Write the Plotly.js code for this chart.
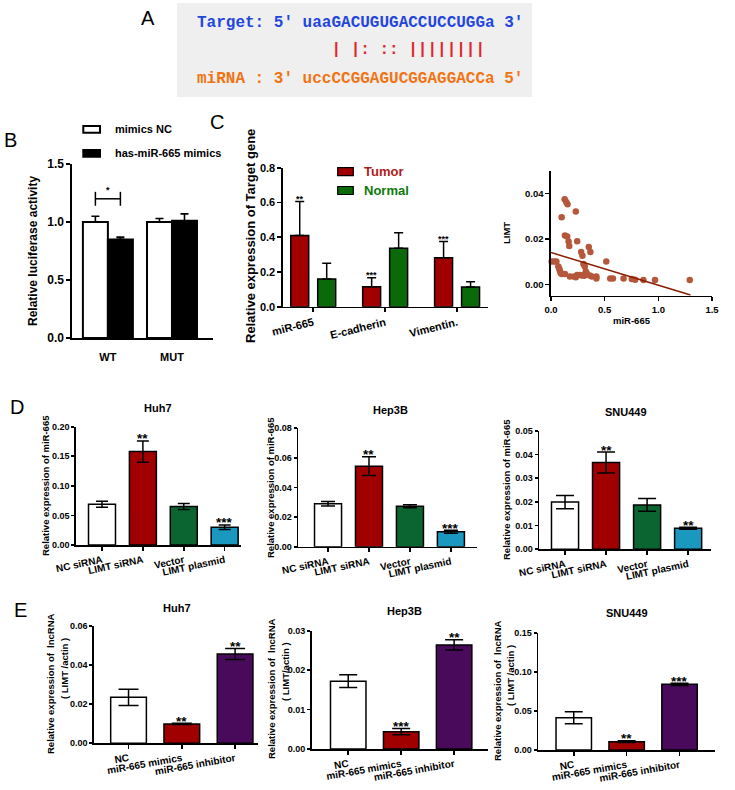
<!DOCTYPE html>
<html><head><meta charset="utf-8">
<script src="https://cdn.plot.ly/plotly-3.0.1.min.js"></script>
<style>html,body{margin:0;padding:0;background:#fff}#chart{width:735px;height:790px}</style>
</head><body><div id="chart"></div>
<script>
// ---------------- DATA ----------------
// Panel A
const targetSeq = "Target: 5' uaaGACUGUGACCUCCUGGa 3'";
const pairLine  = "              | |: :: ||||||||";
const mirnaSeq  = "miRNA : 3' uccCCGGAGUCGGAGGACCa 5'";

// Panel B
const bCats = ['WT', 'MUT'];
const bNC = [1.00, 1.00];
const bNCerr = [0.05, 0.03];
const bMim = [0.85, 1.01];
const bMimErr = [0.02, 0.06];
const bLegend = ['mimics NC', 'has-miR-665 mimics'];

// Panel C (bars)
const cCats = ['miR-665', 'E-cadherin', 'Vimentin.'];
const cTumor = [0.41, 0.115, 0.282];
const cTumorErr = [0.195, 0.052, 0.093];
const cNormal = [0.16, 0.336, 0.114];
const cNormalErr = [0.09, 0.09, 0.03];
const cTumorSig = ['**', '***', '***'];
const cLegend = ['Tumor', 'Normal'];

// Panel C (scatter)
const scX = [0.006,0.031,0.05,0.068,0.077,0.083,0.09,0.099,0.13,0.099,0.127,0.142,0.154,0.13,0.151,0.164,0.17,0.176,0.231,0.244,0.213,0.231,0.244,0.269,0.281,0.293,0.29,0.31,0.302,0.315,0.324,0.336,0.352,0.367,0.361,0.38,0.423,0.423,0.515,0.552,0.577,0.676,0.753,0.784,0.861,0.969,1.293];
const scY = [0.0101,0.0101,0.0100,0.0079,0.0069,0.006,0.005,0.0045,0.0045,0.0295,0.0374,0.0362,0.0352,0.0215,0.021,0.0188,0.0169,0.0035,0.032,0.019,0.0035,0.0031,0.0041,0.0041,0.0142,0.0126,0.0039,0.0038,0.009,0.0079,0.0057,0.0047,0.0164,0.0142,0.0039,0.0035,0.0035,0.0026,0.0101,0.0026,0.0026,0.0026,0.0023,0.002,0.0019,0.0019,0.0019];
const fitX = [0, 1.3];
const fitY = [0.0140, -0.0047];

// Panel D
const dCats = ['NC siRNA', 'LIMT siRNA', 'Vector', 'LIMT plasmid'];
const dHuh7 = [0.069, 0.158, 0.065, 0.030];
const dHuh7Err = [0.005, 0.018, 0.005, 0.004];
const dHuh7Sig = ['', '**', '', '***'];
const dHep3B = [0.029, 0.0544, 0.0274, 0.0101];
const dHep3BErr = [0.0015, 0.0063, 0.001, 0.001];
const dHep3BSig = ['', '**', '', '***'];
const dSNU = [0.0199, 0.0366, 0.0187, 0.0089];
const dSNUErr = [0.0028, 0.0044, 0.0027, 0.0004];
const dSNUSig = ['', '**', '', '**'];

// Panel E
const eCats = ['NC', 'miR-665 mimics', 'miR-665 inhibitor'];
const eHuh7 = [0.0235, 0.0099, 0.0457];
const eHuh7Err = [0.0042, 0.0003, 0.0028];
const eHuh7Sig = ['', '**', '**'];
const eHep3B = [0.0172, 0.0044, 0.0264];
const eHep3BErr = [0.0016, 0.0008, 0.0013];
const eHep3BSig = ['', '***', '**'];
const eSNU = [0.0413, 0.0107, 0.084];
const eSNUErr = [0.0077, 0.001, 0.0015];
const eSNUSig = ['', '**', '***'];

// ---------------- STYLE / LAYOUT ----------------
const FONT = "'Liberation Sans', Arial, Helvetica, sans-serif";
const MONO = "'Liberation Mono', 'Courier New', monospace";
const W = 735, H = 790, LW = 1.6, BLACK = '#000';
const RED = '#a00000', GREEN_C = '#0a6a0a', GREEN = '#0b6530', CYAN = '#1b98c0', PURPLE = '#4a0a5c';

const traces = [];
const layout = {
  width: W, height: H, margin: {l: 0, r: 0, t: 0, b: 0},
  paper_bgcolor: '#fff', plot_bgcolor: 'rgba(0,0,0,0)',
  barmode: 'overlay', showlegend: false,
  font: {family: FONT, color: BLACK},
  annotations: [], shapes: []
};

function aid(n) { return n === 1 ? '' : String(n); }
function bf(size, color) { return {family: FONT, size: size, color: color || BLACK, weight: 'bold'}; }

function addY(n, top, bottom, range, dtick, fmt, size, tlen) {
  layout['yaxis' + aid(n)] = {
    domain: [1 - bottom / H, 1 - top / H], range: range, dtick: dtick, tick0: 0, tickformat: fmt,
    anchor: 'x' + aid(n), showline: true, linecolor: BLACK, linewidth: LW,
    ticks: 'outside', ticklen: tlen || 4, tickwidth: LW, tickcolor: BLACK,
    showgrid: false, zeroline: false, fixedrange: true, tickfont: bf(size)
  };
}
function addX(n, left, right, range, o) {
  layout['xaxis' + aid(n)] = Object.assign({
    domain: [left / W, right / W], range: range, anchor: 'y' + aid(n), type: 'category',
    showline: true, linecolor: BLACK, linewidth: LW,
    ticks: 'outside', ticklen: 4, tickwidth: LW, tickcolor: BLACK,
    showgrid: false, zeroline: false, fixedrange: true, tickfont: bf(10)
  }, o || {});
}
function pann(text, xPx, yPx, font, extra) {
  layout.annotations.push(Object.assign({
    xref: 'paper', yref: 'paper', x: xPx / W, y: 1 - yPx / H, text: text, showarrow: false,
    xanchor: 'center', yanchor: 'middle', font: font
  }, extra || {}));
}
function prect(x0, y0, x1, y1, fill, lw) {
  layout.shapes.push({type: 'rect', xref: 'paper', yref: 'paper', x0: x0 / W, x1: x1 / W,
    y0: 1 - y1 / H, y1: 1 - y0 / H, fillcolor: fill, line: {color: BLACK, width: lw}});
}
function stars(n, vals, errs, sig, dx, size, shift) {
  sig.forEach(function (s, i) {
    if (!s) return;
    layout.annotations.push({xref: 'x' + aid(n), yref: 'y' + aid(n), x: i + dx, y: vals[i] + errs[i],
      text: s, showarrow: false, xanchor: 'center', yanchor: 'middle', yshift: shift, font: bf(size)});
  });
}
function barPanel(n, cats, vals, errs, colors, width, capW, sig) {
  traces.push({type: 'bar', x: cats, y: vals, xaxis: 'x' + aid(n), yaxis: 'y' + aid(n), width: width,
    marker: {color: colors, line: {color: BLACK, width: 1.5}},
    error_y: {type: 'data', array: errs, visible: true, color: BLACK, thickness: 1.5, width: capW},
    hoverinfo: 'skip'});
  stars(n, vals, errs, sig, 0, 13.5, 2);
}

// ---------------- PANEL A ----------------
layout.shapes.push({type: 'rect', xref: 'paper', yref: 'paper', x0: 177 / W, x1: 532 / W, y0: 1 - 97 / H, y1: 1 - 3 / H,
  fillcolor: '#efefef', line: {width: 0}, layer: 'below'});
pann('A', 148, 18, {family: FONT, size: 20, color: BLACK});
pann(targetSeq, 195, 23, {family: MONO, size: 16, color: '#2346dc', weight: 'bold'}, {xanchor: 'left'});
pann(pairLine.replace(/ /g, '\u00A0'), 195, 50, {family: MONO, size: 16, color: '#e0262b', weight: 'bold'}, {xanchor: 'left'});
pann(mirnaSeq, 195, 79, {family: MONO, size: 16, color: '#f07414', weight: 'bold'}, {xanchor: 'left'});

// ---------------- PANEL B ----------------
const bW = 0.39;
addX(1, 72, 213, [-0.56, 1.64], {ticks: '', tickfont: bf(11), ticklabelstandoff: 8});
addY(1, 164, 338, [0, 1.5], 0.5, '.1f', 12);
traces.push({type: 'bar', x: bCats, y: bNC, xaxis: 'x', yaxis: 'y', width: bW, offset: -bW,
  marker: {color: '#fff', line: {color: BLACK, width: 2}},
  error_y: {type: 'data', symmetric: false, array: bNCerr, arrayminus: [0, 0], color: BLACK, thickness: 1.6, width: 4},
  hoverinfo: 'skip'});
traces.push({type: 'bar', x: bCats, y: bMim, xaxis: 'x', yaxis: 'y', width: bW, offset: 0,
  marker: {color: '#000', line: {color: BLACK, width: 2}},
  error_y: {type: 'data', symmetric: false, array: bMimErr, arrayminus: [0, 0], color: BLACK, thickness: 1.6, width: 4},
  hoverinfo: 'skip'});
// significance bracket between the two WT bars
(function () {
  const yB = Math.max(bNC[0] + bNCerr[0], bMim[0] + bMimErr[0]) + 0.15;
  const xa = -bW / 2, xb = bW / 2;
  const ln = function (x0, y0, x1, y1) {
    layout.shapes.push({type: 'line', xref: 'x', yref: 'y', x0: x0, y0: y0, x1: x1, y1: y1, line: {color: BLACK, width: 1.5}});
  };
  ln(xa, yB, xb, yB); ln(xa, yB - 0.06, xa, yB + 0.06); ln(xb, yB - 0.06, xb, yB + 0.06);
  layout.annotations.push({xref: 'x', yref: 'y', x: 0, y: yB, text: '*', showarrow: false, yanchor: 'bottom', yshift: 2, font: bf(9)});
})();
pann('B', 10, 140, {family: FONT, size: 20, color: BLACK});
pann('Relative luciferase activity', 33, 251, bf(12), {textangle: -90});
prect(83.3, 126, 100, 132.7, '#fff', 2);
prect(83.3, 150, 100, 156.7, '#000', 2);
pann(bLegend[0], 113, 129, bf(11), {xanchor: 'left'});
pann(bLegend[1], 113, 153, bf(11), {xanchor: 'left'});

// ---------------- PANEL C (bars) ----------------
const cW = 0.25, cOffT = -0.3125, cOffN = 0.0625;
addX(2, 283, 488, [-0.42, 2.43], {tickangle: -14, tickfont: bf(11)});
addY(2, 167.7, 306.7, [0, 0.8], 0.2, '.1f', 11);
traces.push({type: 'bar', x: cCats, y: cTumor, xaxis: 'x2', yaxis: 'y2', width: cW, offset: cOffT,
  marker: {color: RED, line: {color: BLACK, width: 1.5}},
  error_y: {type: 'data', symmetric: false, array: cTumorErr, arrayminus: [0, 0, 0], color: BLACK, thickness: 1.5, width: 4.5},
  hoverinfo: 'skip'});
traces.push({type: 'bar', x: cCats, y: cNormal, xaxis: 'x2', yaxis: 'y2', width: cW, offset: cOffN,
  marker: {color: GREEN_C, line: {color: BLACK, width: 1.5}},
  error_y: {type: 'data', symmetric: false, array: cNormalErr, arrayminus: [0, 0, 0], color: BLACK, thickness: 1.5, width: 4.5},
  hoverinfo: 'skip'});
stars(2, cTumor, cTumorErr, cTumorSig, cOffT + cW / 2, 9, 2.5);
pann('C', 217, 122, {family: FONT, size: 20, color: BLACK});
pann('Relative expression of Target gene', 250, 236, bf(13), {textangle: -90});
prect(337.7, 167.7, 353.3, 175.7, RED, 1.2);
prect(337.7, 186.5, 353.3, 194.5, GREEN_C, 1.2);
pann(cLegend[0], 361.7, 171.7, bf(13, '#b01c1c'), {xanchor: 'left'});
pann(cLegend[1], 361.7, 190.5, bf(13, '#0b7a0b'), {xanchor: 'left'});

// ---------------- PANEL C (scatter) ----------------
addX(3, 551, 712, [0, 1.5], {type: 'linear', dtick: 0.5, tick0: 0, tickformat: '.1f', tickfont: bf(9.5)});
addY(3, 170.7, 295.7, [-0.005, 0.05], 0.02, '.2f', 9.5);
traces.push({type: 'scatter', mode: 'markers', x: scX, y: scY, xaxis: 'x3', yaxis: 'y3',
  marker: {color: '#b5573b', size: 6.5}, hoverinfo: 'skip', cliponaxis: false});
traces.push({type: 'scatter', mode: 'lines', x: fitX, y: fitY, xaxis: 'x3', yaxis: 'y3',
  line: {color: '#8b1c00', width: 1.5}, hoverinfo: 'skip'});
pann('LIMT', 506, 233, bf(9.5), {textangle: -90});
pann('miR-665', 632, 321, bf(9.5));

// ---------------- PANEL D ----------------
const dColors = ['#fff', RED, GREEN, CYAN];
addX(4, 76, 241, [-0.636, 3.40], {tickangle: -12, tickfont: bf(10)});
addY(4, 426.7, 545, [0, 0.2], 0.05, '.2f', 9, 3);
barPanel(4, dCats, dHuh7, dHuh7Err, dColors, 0.66, 6, dHuh7Sig);
addX(5, 298.3, 476.7, [-0.726, 3.63], {tickangle: -12, tickfont: bf(10)});
addY(5, 428.3, 546.7, [0, 0.08], 0.02, '.2f', 9, 3);
barPanel(5, dCats, dHep3B, dHep3BErr, dColors, 0.66, 7, dHep3BSig);
addX(6, 539.3, 710.7, [-0.627, 3.55], {tickangle: -12, tickfont: bf(10)});
addY(6, 430.7, 549.3, [0, 0.05], 0.01, '.2f', 9, 3);
barPanel(6, dCats, dSNU, dSNUErr, dColors, 0.66, 9, dSNUSig);
pann('D', 17, 407, {family: FONT, size: 20, color: BLACK});
pann('Huh7', 158, 408, bf(11));
pann('Hep3B', 390, 410, bf(11));
pann('SNU449', 626, 412, bf(11));
pann('Relative expression of miR-665', 46, 486, bf(9.5), {textangle: -90});
pann('Relative expression of miR-665', 271, 488, bf(9.5), {textangle: -90});
pann('Relative expression of miR-665', 506, 490, bf(9.5), {textangle: -90});

// ---------------- PANEL E ----------------
const eColors = ['#fff', RED, PURPLE];
addX(7, 94, 258, [-0.648, 2.43], {tickangle: -10, tickfont: bf(10)});
addY(7, 626, 743.3, [0, 0.06], 0.02, '.2f', 9, 3);
barPanel(7, eCats, eHuh7, eHuh7Err, eColors, 0.67, 10, eHuh7Sig);
addX(8, 311.7, 488, [-0.69, 2.64], {tickangle: -10, tickfont: bf(10)});
addY(8, 630.7, 749, [0, 0.03], 0.01, '.2f', 9, 3);
barPanel(8, eCats, eHep3B, eHep3BErr, eColors, 0.67, 9, eHep3BSig);
addX(9, 538.3, 715, [-0.67, 2.67], {tickangle: -10, tickfont: bf(10)});
addY(9, 632.7, 750, [0, 0.15], 0.05, '.2f', 9, 3);
barPanel(9, eCats, eSNU, eSNUErr, eColors, 0.67, 9, eSNUSig);
pann('E', 20, 610, {family: FONT, size: 20, color: BLACK});
pann('Huh7', 177, 608, bf(11));
pann('Hep3B', 404, 611, bf(11));
pann('SNU449', 627, 613, bf(11));
pann('Relative expression of  lncRNA', 50, 684, bf(9.5), {textangle: -90});
pann('( LIMT /actin )', 64, 668, bf(9.5), {textangle: -90});
pann('Relative expression of  lncRNA', 271, 689, bf(9.5), {textangle: -90});
pann('( LIMT/actin )', 285, 672, bf(9.5), {textangle: -90});
pann('Relative expression of  lncRNA', 497, 691, bf(9.5), {textangle: -90});
pann('( LIMT /actin )', 510, 676, bf(9.5), {textangle: -90});

Plotly.newPlot('chart', traces, layout, {staticPlot: true, displayModeBar: false});
</script>
</body></html>
